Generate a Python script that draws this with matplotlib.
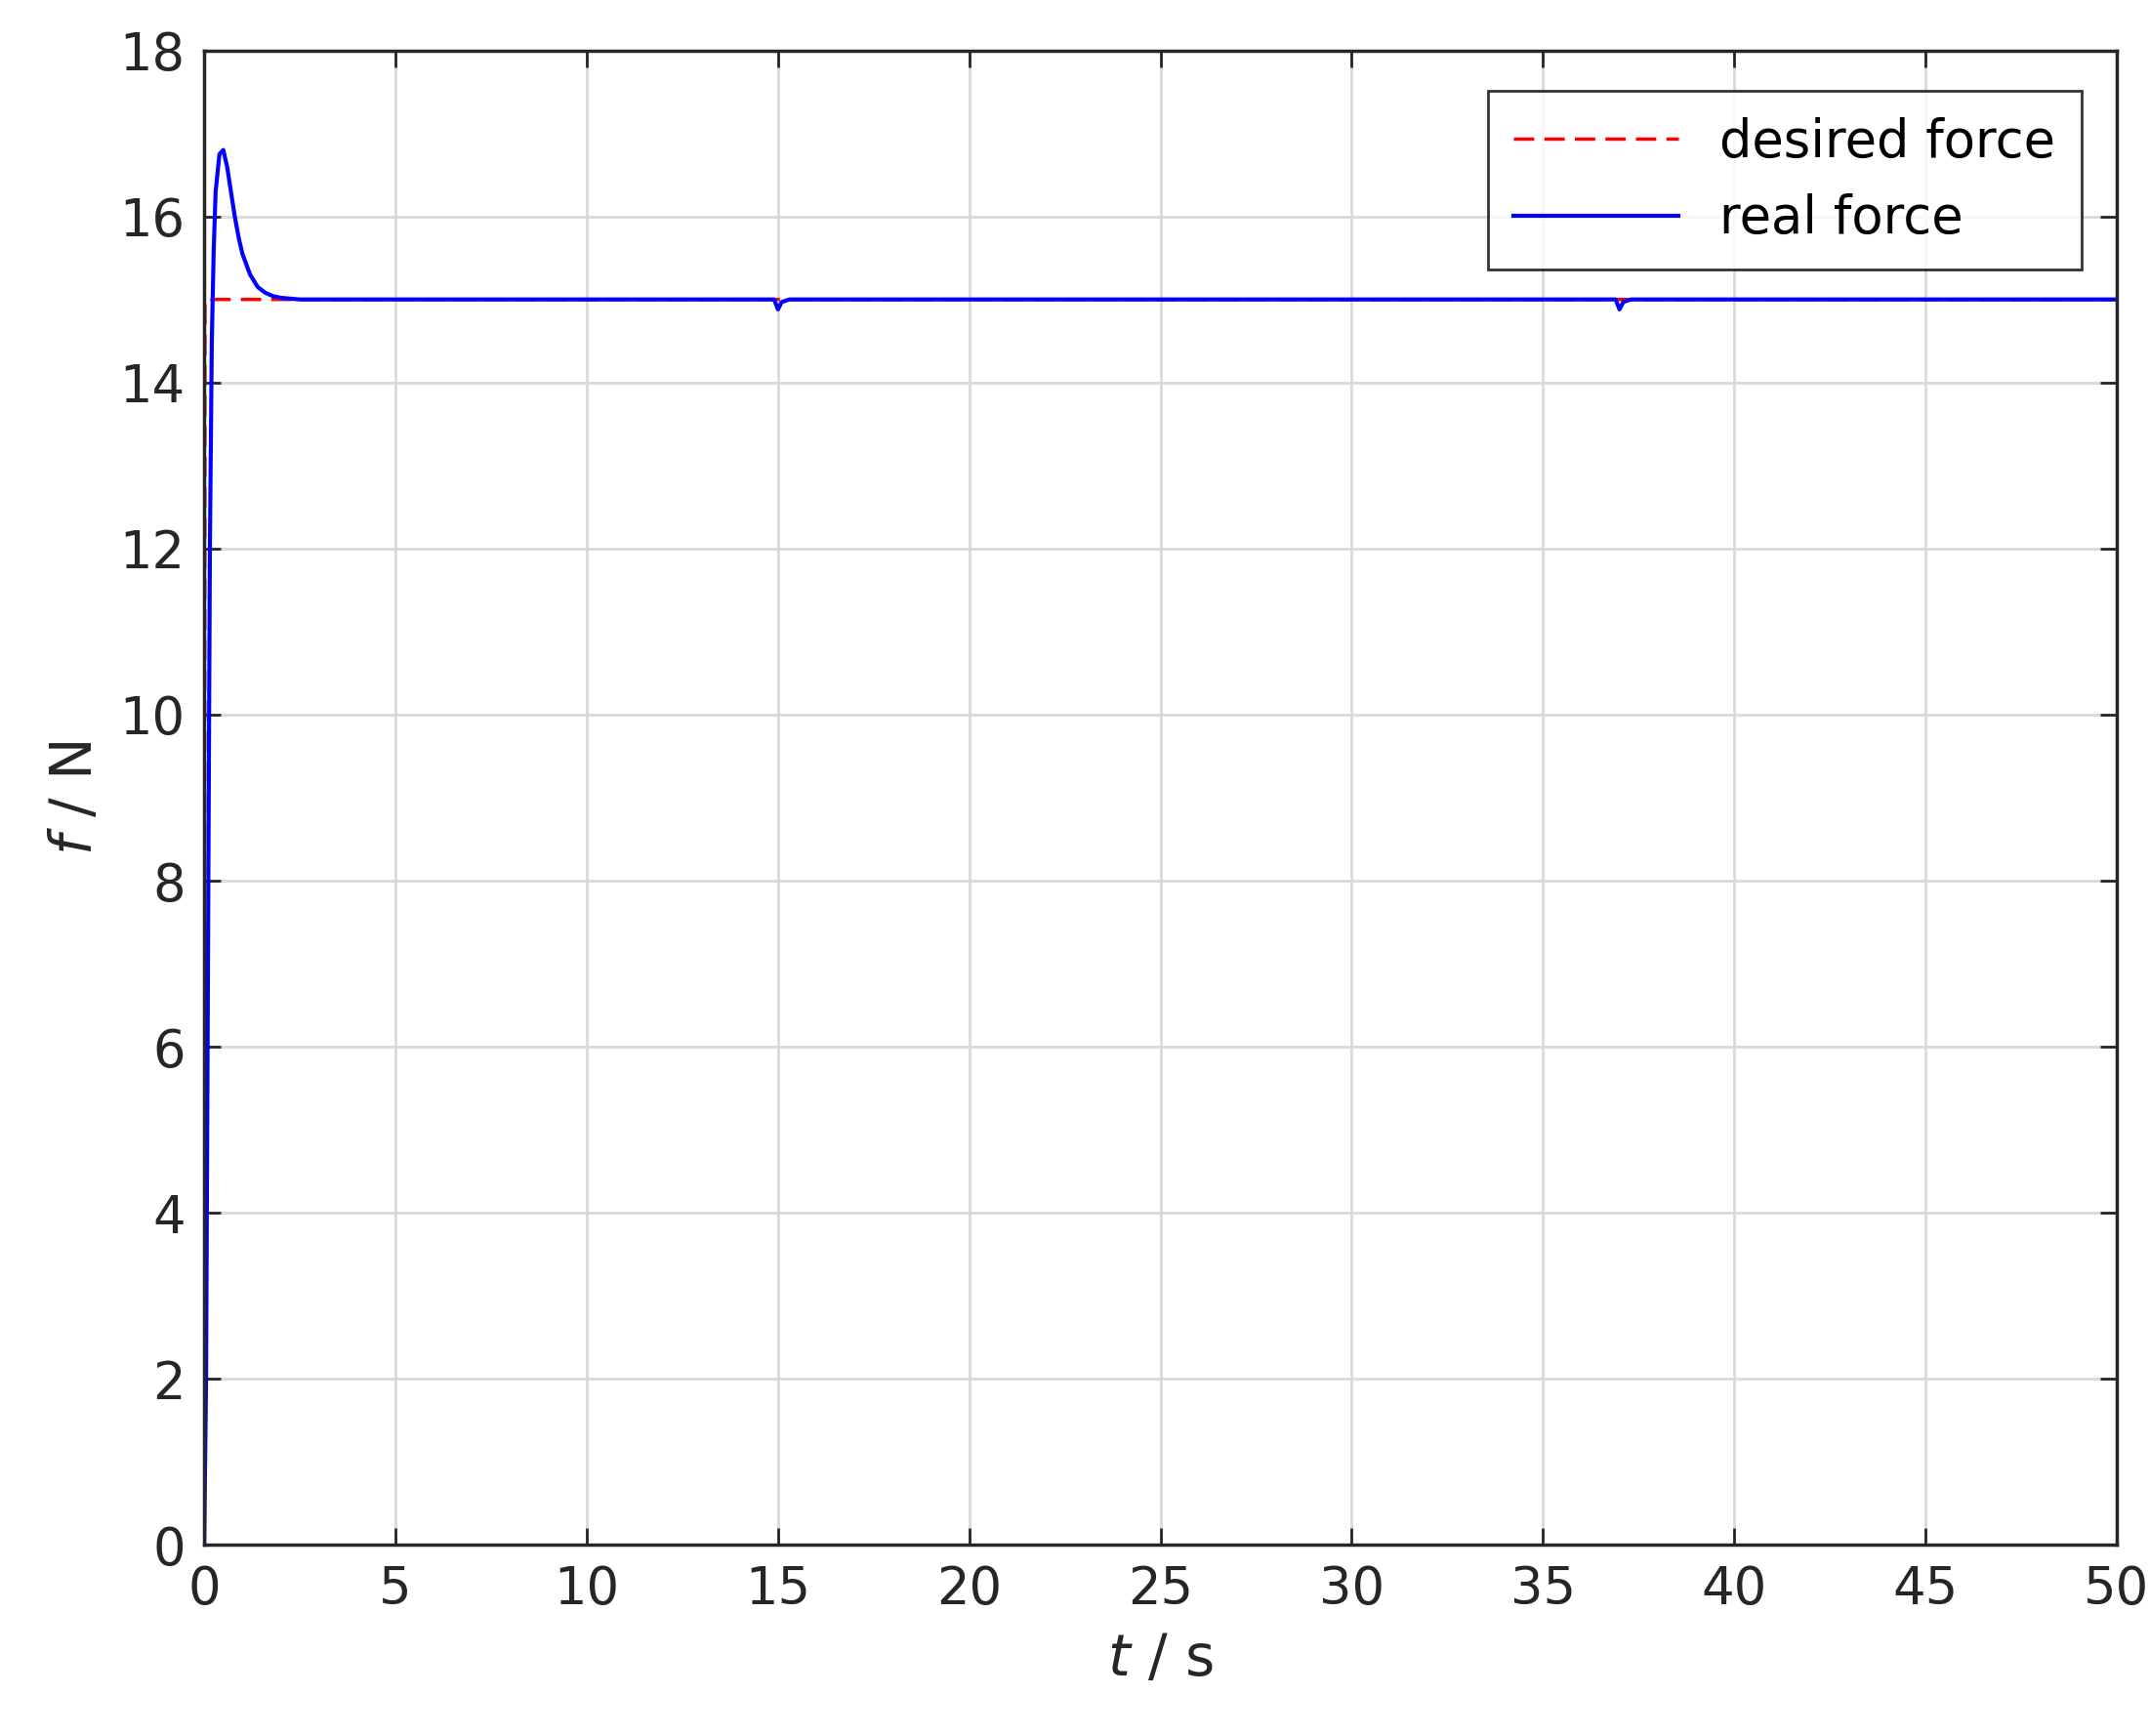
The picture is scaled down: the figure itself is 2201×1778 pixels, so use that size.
import matplotlib.pyplot as plt

# desired force
t_des = [0.0, 0.02, 0.05, 15.0, 15.05, 37.0, 37.05, 50.0]
f_des = [0.0, 15.0, 15.0, 15.0, 15.0, 15.0, 15.0, 15.0]

# real force
t_real = [0.0, 0.05, 0.1, 0.15, 0.2, 0.25, 0.3, 0.4, 0.5, 0.6, 0.7, 0.8, 0.9, 1.0, 1.2, 1.4, 1.6, 1.8, 2.0, 2.5, 3.0,
          14.9, 15.0, 15.1, 15.3, 36.9, 37.0, 37.1, 37.3, 50.0]
f_real = [0.0, 2.0, 7.0, 12.0, 14.5, 15.6, 16.3, 16.75, 16.8, 16.6, 16.3, 16.0, 15.75, 15.55, 15.3, 15.15, 15.08, 15.04, 15.02, 15.0, 15.0,
          15.0, 14.88, 14.97, 15.0, 15.0, 14.88, 14.97, 15.0, 15.0]

fig = plt.figure(figsize=(22.01, 17.78), dpi=100)
ax = fig.add_axes([0.095, 0.11, 0.89, 0.861])

ax.plot(t_des, f_des, color="red", linestyle="--", linewidth=2.5, dashes=(6, 3), label="desired force")
ax.plot(t_real, f_real, color="blue", linewidth=3, label="real force")

ax.set_xlim(0, 50)
ax.set_ylim(0, 18)
ax.set_xticks(range(0, 51, 5))
ax.set_yticks(range(0, 19, 2))
ax.tick_params(labelsize=38, direction="in", length=12, width=2, colors="#262626",
               pad=14, top=True, right=True)
for s in ax.spines.values():
    s.set_linewidth(2.5)
    s.set_color("#262626")
ax.grid(True, color="#d9d9d9", linewidth=2)

ax.set_xlabel(r"$\mathit{t}$ / s", fontsize=42, color="#262626", labelpad=12)
ax.set_ylabel(r"$\mathit{f}$ / N", fontsize=42, color="#262626", labelpad=12)

leg = ax.legend(loc="upper right", fontsize=38, fancybox=False, edgecolor="black",
                handlelength=3.2, borderpad=0.5, bbox_to_anchor=(0.995, 0.99))
leg.get_frame().set_linewidth(2)

plt.savefig("out.png")
